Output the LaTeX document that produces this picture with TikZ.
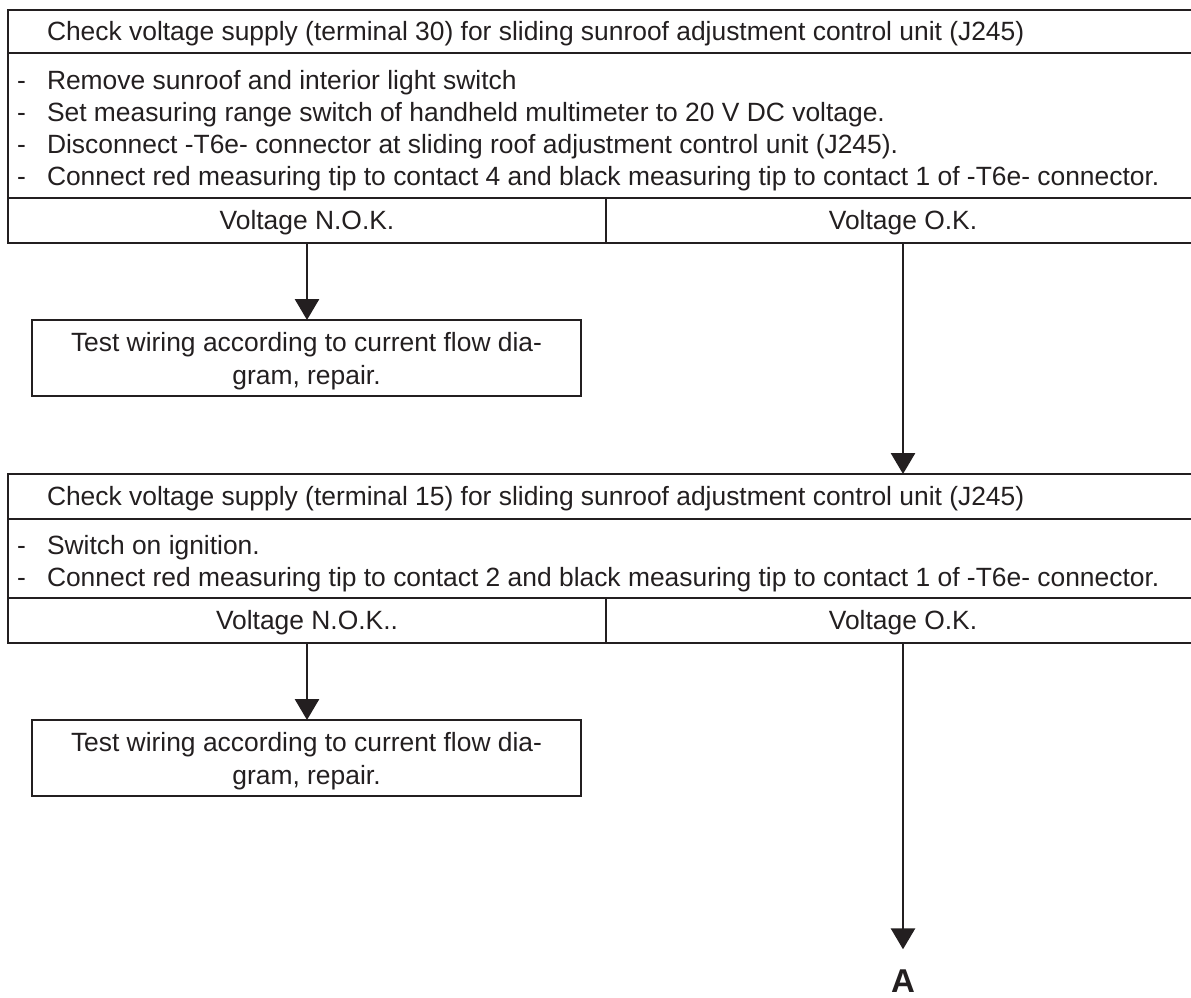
\documentclass[tikz,border=0pt]{standalone}
\usepackage{fontspec}
\setmainfont{Liberation Sans}
\usetikzlibrary{arrows.meta}
\definecolor{ink}{HTML}{231F20}
\begin{document}
\begin{tikzpicture}[x=1pt,y=-1pt,color=ink,line width=2.9pt,
  cell/.style={draw,rectangle,inner sep=0pt,outer sep=0pt,anchor=north west},
  txt/.style={inner sep=0pt,outer sep=0pt,font=\fontsize{26.4}{30}\selectfont},
  arr/.style={-{Triangle[width=24pt,length=21pt]},line width=2.9pt}]
\useasboundingbox (0,0) rectangle (1191,998);
\fill[white] (0,0) rectangle (1191,998);
% ---- table 1
\node[cell,minimum width=1192pt,minimum height=43pt]  (t1title) at (8,10) {};
\node[cell,minimum width=1192pt,minimum height=145pt] (t1body)  at (8,53) {};
\node[cell,minimum width=598pt,minimum height=45pt]   (t1nok)   at (8,198) {};
\node[cell,minimum width=594pt,minimum height=45pt]   (t1ok)    at (606,198) {};
\node[txt,anchor=base west] (t1h) at (47,40.5) {Check voltage supply (terminal 30) for sliding sunroof adjustment control unit (J245)};
\foreach \y/\t [count=\i] in {89/{Remove sunroof and interior light switch},
  121/{Set measuring range switch of handheld multimeter to 20 V DC voltage.},
  153/{Disconnect -T6e- connector at sliding roof adjustment control unit (J245).},
  185/{Connect red measuring tip to contact 4 and black measuring tip to contact 1 of -T6e- connector.}}{
  \node[txt,anchor=base west] (t1d\i) at (17,\y) {-};
  \node[txt,anchor=base west] (t1l\i) at (47,\y) {\t};
}
\node[txt,anchor=base] (t1nokt) at (307,229) {Voltage N.O.K.};
\node[txt,anchor=base] (t1okt)  at (903,229) {Voltage O.K.};
% ---- fix box 1
\node[cell,minimum width=549pt,minimum height=76pt] (fix1) at (32,320) {};
\node[txt,anchor=base] (fix1a) at (306.5,351) {Test wiring according to current flow dia-};
\node[txt,anchor=base] (fix1b) at (306.5,384) {gram, repair.};
% ---- table 2
\node[cell,minimum width=1192pt,minimum height=45pt] (t2title) at (8,474) {};
\node[cell,minimum width=1192pt,minimum height=79pt] (t2body)  at (8,519) {};
\node[cell,minimum width=598pt,minimum height=45pt]  (t2nok)   at (8,598) {};
\node[cell,minimum width=594pt,minimum height=45pt]  (t2ok)    at (606,598) {};
\node[txt,anchor=base west] (t2h) at (47,505.5) {Check voltage supply (terminal 15) for sliding sunroof adjustment control unit (J245)};
\foreach \y/\t [count=\i] in {554/{Switch on ignition.},
  586/{Connect red measuring tip to contact 2 and black measuring tip to contact 1 of -T6e- connector.}}{
  \node[txt,anchor=base west] (t2d\i) at (17,\y) {-};
  \node[txt,anchor=base west] (t2l\i) at (47,\y) {\t};
}
\node[txt,anchor=base] (t2nokt) at (307,629) {Voltage N.O.K..};
\node[txt,anchor=base] (t2okt)  at (903,629) {Voltage O.K.};
% ---- fix box 2
\node[cell,minimum width=549pt,minimum height=76pt] (fix2) at (32,720) {};
\node[txt,anchor=base] (fix2a) at (306.5,751) {Test wiring according to current flow dia-};
\node[txt,anchor=base] (fix2b) at (306.5,784) {gram, repair.};
% ---- A
\node[inner sep=0pt,outer sep=0pt,anchor=base,font=\fontsize{33}{33}\selectfont\bfseries] (A) at (903,992) {A};
% ---- connectors
\draw[arr] (t1nok.south) -- (t1nok.south |- fix1.north);
\draw[arr] (t1ok.south) -- (t1ok.south |- t2title.north);
\draw[arr] (t2nok.south) -- (t2nok.south |- fix2.north);
\draw[arr,shorten >=20pt] (t2ok.south) -- (A.north);
\end{tikzpicture}
\end{document}
